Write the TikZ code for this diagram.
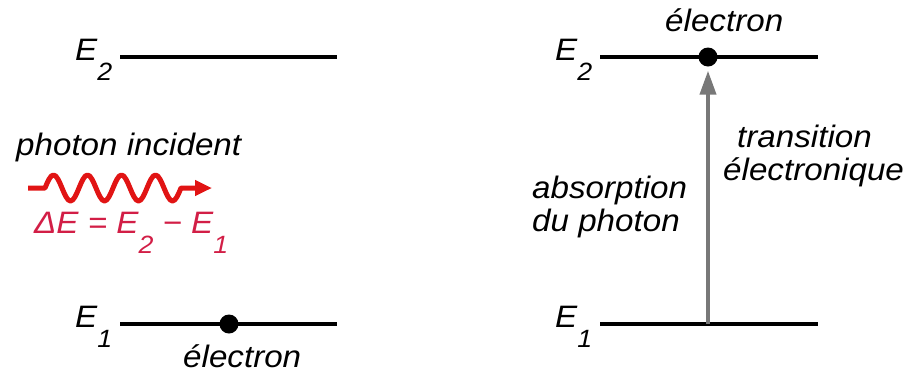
\documentclass[tikz,border=0pt]{standalone}
\usepackage{fontspec}
\setmainfont{Liberation Sans}[FakeStretch=1.07]
\usetikzlibrary{arrows.meta}
\definecolor{wavered}{RGB}{225,20,20}
\definecolor{labelred}{RGB}{210,30,70}
\definecolor{arrowgray}{RGB}{120,120,120}
% lowered index digit for the level names E1, E2
\newcommand\lvlidx[1]{\lower20pt\hbox{\fontsize{25}{25}\selectfont\itshape #1}}
\begin{document}
\begin{tikzpicture}[x=1pt,y=-1pt,
  lbl/.style={anchor=base west,inner sep=0pt,font=\fontsize{31}{37}\selectfont\itshape},
  level/.style={line width=4pt,line cap=butt},
  electron/.style={circle,fill=black,draw=none,inner sep=0pt,minimum size=19pt},
  photon/.style={wavered,line width=5pt,line join=round,
    -{Triangle[length=17pt,width=15pt]}},
  jump/.style={arrowgray,line width=4pt,
    -{Triangle[length=24pt,width=16pt]}},
]
\useasboundingbox (0,0) rectangle (908,373);

% ---- left: before absorption ----
\coordinate (l2a) at (120,57);  \coordinate (l2b) at (337,57);
\coordinate (l1a) at (120,324); \coordinate (l1b) at (337,324);
\draw[level] (l2a) -- (l2b);
\draw[level] (l1a) -- (l1b);
\node[lbl] (lE2) at (75,60) {E\lvlidx{2}};
\node[lbl] (lE1) at (75,327) {E\lvlidx{1}};
\node[electron] (ldot) at (229,324) {};
\node[lbl] (lel) at (183,367) {électron};

% incident photon: four periods of a sine wave between straight ends
\node[lbl] (phtxt) at (16,155) {photon incident};
\coordinate (w0) at (28,188);
\coordinate (w1) at (212,188);
\draw[photon] (w0) -- ++(17,0)
  \foreach \k in {1,...,4} {
    sin ++(8.5,-13) cos ++(8.5,13) sin ++(8.5,13) cos ++(8.5,-13)
  }
  -- (w1);
\node[lbl,text=labelred] (dE) at (34,233) {ΔE = E\lvlidx{2} − E\lvlidx{1}};

% ---- right: after absorption ----
\coordinate (r2a) at (600,57);  \coordinate (r2b) at (818,57);
\coordinate (r1a) at (600,324); \coordinate (r1b) at (818,324);
\coordinate (r1c) at (708,324);
\draw[level] (r2a) -- (r2b);
\draw[level] (r1a) -- (r1b);
\node[lbl] (rE2) at (555,60) {E\lvlidx{2}};
\node[lbl] (rE1) at (555,327) {E\lvlidx{1}};
\node[electron] (rdot) at (708,57) {};
\draw[jump,shorten >=4pt] (r1c) -- (rdot);
\node[lbl] (rel) at (665,31) {électron};
\node[lbl] (tr1) at (737,147) {transition};
\node[lbl] (tr2) at (723,180) {électronique};
\node[lbl] (ab1) at (532,198) {absorption};
\node[lbl] (ab2) at (532,231) {du photon};
\end{tikzpicture}
\end{document}
